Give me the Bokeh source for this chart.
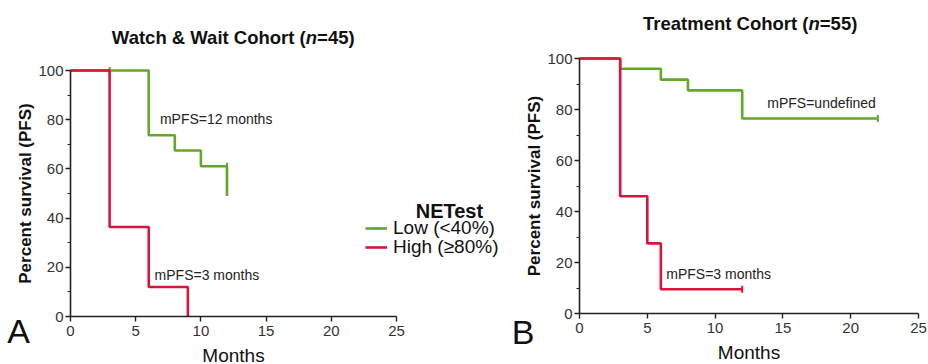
from bokeh.plotting import figure
from bokeh.models import Range1d, FixedTicker, Label, Legend, LegendItem
from bokeh.layouts import row
from bokeh.embed import file_html
from bokeh.resources import INLINE

# ---- data ----
a_low_t = [0, 6, 8, 10, 12]
a_low_s = [100, 73.7, 67.5, 61.1, 49.0]
a_low_cens_t = [3, 12]
a_low_cens_s = [100, 61.1]
a_high_t = [0, 3, 6, 9]
a_high_s = [100, 36.4, 12.0, 0.0]

b_low_t = [0, 3, 6, 8, 12, 22]
b_low_s = [100, 96.0, 91.7, 87.5, 76.5, 76.5]
b_low_cens_t = [22]
b_low_cens_s = [76.5]
b_high_t = [0, 3, 5, 6, 12]
b_high_s = [100, 46.0, 27.5, 9.5, 9.5]
b_high_cens_t = [12]
b_high_cens_s = [9.5]

x_ticks = [0, 5, 10, 15, 20, 25]
y_ticks = [0, 20, 40, 60, 80, 100]
y_minor = [10, 30, 50, 70, 90]
legend_title = "NETest"
legend_labels = ["Low (<40%)", "High (\u226580%)"]

GREEN = "#62a82a"
RED = "#d6173d"
FONT = "Liberation Sans"


def make_fig(width, height, xr, yr):
    p = figure(width=width, height=height, output_backend="svg", toolbar_location=None,
               x_range=Range1d(*xr), y_range=Range1d(*yr),
               min_border_left=0, min_border_right=0, min_border_top=0, min_border_bottom=0)
    p.outline_line_color = None
    p.grid.visible = False
    p.background_fill_color = "white"
    p.border_fill_color = "white"
    p.xaxis.ticker = FixedTicker(ticks=x_ticks)
    p.yaxis.ticker = FixedTicker(ticks=y_ticks, minor_ticks=y_minor)
    p.xaxis.fixed_location = 0
    p.yaxis.fixed_location = 0
    p.xaxis.bounds = (0, 25)
    p.yaxis.bounds = (0, 100)
    for ax in (p.xaxis[0], p.yaxis[0]):
        ax.axis_line_color = "#222222"
        ax.axis_line_width = 1.6
        ax.major_tick_line_color = "#222222"
        ax.major_tick_line_width = 1.4
        ax.major_tick_out = 5
        ax.major_tick_in = 0
        ax.minor_tick_line_color = "#222222"
        ax.minor_tick_line_width = 1.2
        ax.minor_tick_out = 3
        ax.minor_tick_in = 0
        ax.major_label_text_font = FONT
        ax.major_label_text_font_size = "15px"
        ax.major_label_text_color = "#333333"
        ax.axis_label_text_font = FONT
        ax.axis_label_text_color = "#111111"
    p.xaxis.axis_label = "Months"
    p.xaxis.axis_label_text_font_size = "19px"
    p.xaxis.axis_label_text_font_style = "normal"
    p.xaxis.axis_label_standoff = 6
    p.xaxis.major_label_standoff = 4
    p.yaxis.axis_label = "Percent survival (PFS)"
    p.yaxis.axis_label_text_font_size = "17px"
    p.yaxis.axis_label_text_font_style = "bold"
    p.yaxis.axis_label_standoff = 0
    p.yaxis.major_label_standoff = 2
    return p


def add_title(p, parts_x, y, part1, part2, part3):
    common = dict(y=y, text_font=FONT, text_font_size="18.5px", text_color="#111111",
                  text_baseline="middle")
    p.add_layout(Label(x=parts_x[0], text=part1, text_align="right",
                       text_font_style="bold", **common))
    p.add_layout(Label(x=parts_x[0], text=part2, text_align="left",
                       text_font_style="bold italic", **common))
    p.add_layout(Label(x=parts_x[1], text=part3, text_align="left",
                       text_font_style="bold", **common))


def note(p, x, y, text):
    p.add_layout(Label(x=x, y=y, text=text, text_font=FONT, text_font_size="14px",
                       text_color="#222222", text_baseline="middle", text_align="left"))


def letter(p, x, y, text):
    p.add_layout(Label(x=x, y=y, text=text, text_font=FONT, text_font_size="34px",
                       text_color="#111111", text_baseline="middle", text_align="left"))


def legend_one(p, label, renderers, loc):
    lg = Legend(items=[LegendItem(label=label, renderers=renderers)],
                location=loc, orientation="vertical",
                label_text_font=FONT, label_text_font_size="19px", label_text_color="#111111",
                glyph_width=22, glyph_height=18, label_height=18, label_standoff=6,
                spacing=0, padding=0, margin=0, border_line_color=None,
                background_fill_alpha=0)
    p.add_layout(lg, "center")


# ---- panel A ----
pa = make_fig(510, 364, (-5.368, 33.742), (-19.51, 128.46))
la = pa.step(a_low_t, a_low_s, mode="after", line_color=GREEN, line_width=2.6)
ca = pa.scatter(a_low_cens_t, a_low_cens_s, marker="dash", angle=1.5708, size=7,
                line_color=GREEN, line_width=2)
ha = pa.step(a_high_t, a_high_s, mode="after", line_color=RED, line_width=2.6)
add_title(pa, (18.04, 18.91), 113.5, "Watch & Wait Cohort (", "n", "=45)")
note(pa, 6.86, 80.4, "mPFS=12 months")
note(pa, 6.45, 17.0, "mPFS=3 months")
letter(pa, -4.85, -5.9, "A")

legend_one(pa, legend_labels[0], [la, ca], (365, 125))
legend_one(pa, legend_labels[1], [ha], (365, 106))
pa.add_layout(Label(x=29.06, y=42.7, text=legend_title, text_font=FONT, text_font_size="20px",
                    text_font_style="bold", text_color="#111111", text_align="center",
                    text_baseline="middle"))

# ---- panel B ----
pb = make_fig(418, 364, (-5.088, 25.737), (-20.0, 122.75))
pb.step(b_low_t, b_low_s, mode="after", line_color=GREEN, line_width=2.6)
pb.scatter(b_low_cens_t, b_low_cens_s, marker="dash", angle=1.5708, size=7,
           line_color=GREEN, line_width=2)
pb.step(b_high_t, b_high_s, mode="after", line_color=RED, line_width=2.6)
pb.scatter(b_high_cens_t, b_high_cens_s, marker="dash", angle=1.5708, size=7,
           line_color=RED, line_width=2)
add_title(pb, (16.89, 17.72), 113.7, "Treatment Cohort (", "n", "=55)")
note(pb, 13.85, 82.5, "mPFS=undefined")
note(pb, 6.4, 15.3, "mPFS=3 months")
letter(pb, -5.0, -7.25, "B")

layout = row(pa, pb)
open("out.html", "w").write(file_html(layout, INLINE))
